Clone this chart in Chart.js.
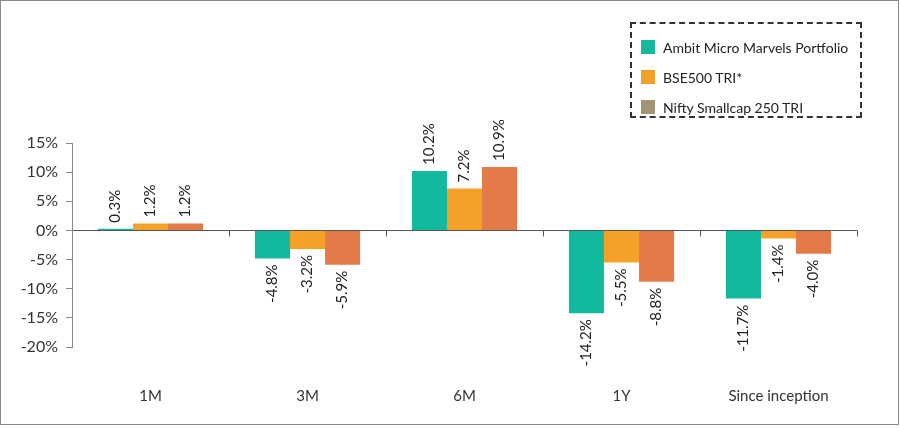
<!DOCTYPE html>
<html>
<head>
<meta charset="utf-8">
<script src="https://cdn.jsdelivr.net/npm/chart.js@4"></script>
<style>
  body { margin: 0; background: #fff; font-family: Lato, sans-serif; }
  #wrap { position: relative; width: 900px; height: 429px; }
  #frame { position: absolute; left: 0; top: 0; width: 899px; height: 425px; border: 1px solid #8a8a8a; box-sizing: border-box; }
  #legend { position: absolute; left: 630px; top: 22px; width: 232px; height: 96px; border: 2px dashed #333; box-sizing: border-box; padding: 8px 0 0 9px; }
  .item { display: flex; align-items: center; height: 30px; font-size: 14px; color: #222; }
  .sw { width: 14px; height: 14px; margin-right: 8px; }
</style>
</head>
<body>
<div id="wrap">
  <div id="frame"></div>
  <canvas id="chart" width="900" height="429"></canvas>
  <div id="legend"></div>
</div>
<script>
let periods = ["1M", "3M", "6M", "1Y", "Since inception"]
let seriesNames = ["Ambit Micro Marvels Portfolio", "BSE500 TRI*", "Nifty Smallcap 250 TRI"]
let ambit = [0.3, -4.8, 10.2, -14.2, -11.7]
let bse500 = [1.2, -3.2, 7.2, -5.5, -1.4]
let smallcap = [1.2, -5.9, 10.9, -8.8, -4.0]
let barColors = ["#13b99d", "#f5a129", "#e47a47"]
let legendColors = ["#13b99d", "#f5a129", "#a39474"]

// legend box (the third swatch differs from the bar colour in the original)
let legend = document.getElementById("legend")
seriesNames.forEach(function(name, i){
    let row = document.createElement("div")
    row.className = "item"
    row.innerHTML = '<span class="sw" style="background:' + legendColors[i] + '"></span>' + name
    legend.appendChild(row)
})

// rotated value labels above / below each bar
let valueLabels = {
    id: "valueLabels",
    afterDatasetsDraw(chart){
        let ctx = chart.ctx
        ctx.save()
        ctx.font = "15px Lato"
        ctx.fillStyle = "#222"
        ctx.textBaseline = "middle"
        chart.data.datasets.forEach(function(ds, i){
            chart.getDatasetMeta(i).data.forEach(function(bar, j){
                let v = ds.data[j]
                ctx.save()
                ctx.translate(bar.x, v >= 0 ? bar.y - 6 : bar.y + 6)
                ctx.rotate(-Math.PI / 2)
                ctx.textAlign = v >= 0 ? "left" : "right"
                ctx.fillText(v.toFixed(1) + "%", 0, 0)
                ctx.restore()
            })
        })
        ctx.restore()
    }
}

// small category ticks on the zero line
let zeroTicks = {
    id: "zeroTicks",
    afterDraw(chart){
        let ctx = chart.ctx
        let x = chart.scales.x
        let y0 = chart.scales.y.getPixelForValue(0)
        let half = (x.getPixelForValue(1) - x.getPixelForValue(0)) / 2
        ctx.save()
        ctx.strokeStyle = "#555"
        ctx.lineWidth = 1
        for (let i = 1; i <= periods.length; i++){
            let px = Math.round(x.getPixelForValue(i - 1) + half) + 0.5
            ctx.beginPath()
            ctx.moveTo(px, y0)
            ctx.lineTo(px, y0 + 6)
            ctx.stroke()
        }
        ctx.restore()
    }
}

Chart.defaults.font.family = "Lato"
Chart.defaults.color = "#333"

new Chart("chart", {
    type: "bar",
    data: {
        labels: periods,
        datasets: [
            {label: seriesNames[0], data: ambit, backgroundColor: barColors[0]},
            {label: seriesNames[1], data: bse500, backgroundColor: barColors[1]},
            {label: seriesNames[2], data: smallcap, backgroundColor: barColors[2]}
        ]
    },
    options: {
        responsive: false,
        animation: false,
        categoryPercentage: 0.67,
        barPercentage: 1.0,
        layout: {padding: {top: 143, right: 43, bottom: 10, left: 0}},
        plugins: {legend: {display: false}, tooltip: {enabled: false}},
        scales: {
            x: {
                afterFit: function(scale){ scale.height = 72 },
                grid: {display: false},
                border: {display: false},
                ticks: {padding: 32, font: {size: 15}, color: "#333"}
            },
            y: {
                min: -20,
                max: 15,
                afterFit: function(scale){ scale.width = 72 },
                ticks: {stepSize: 5, padding: 8, font: {size: 16}, color: "#333",
                    callback: function(v){ return v + "%" }},
                grid: {
                    color: function(c){ return c.tick && c.tick.value === 0 ? "#555" : "rgba(0,0,0,0)" },
                    tickColor: "#888",
                    tickLength: 6
                },
                border: {display: true, color: "#888"}
            }
        }
    },
    plugins: [valueLabels, zeroTicks]
})
</script>
</body>
</html>
